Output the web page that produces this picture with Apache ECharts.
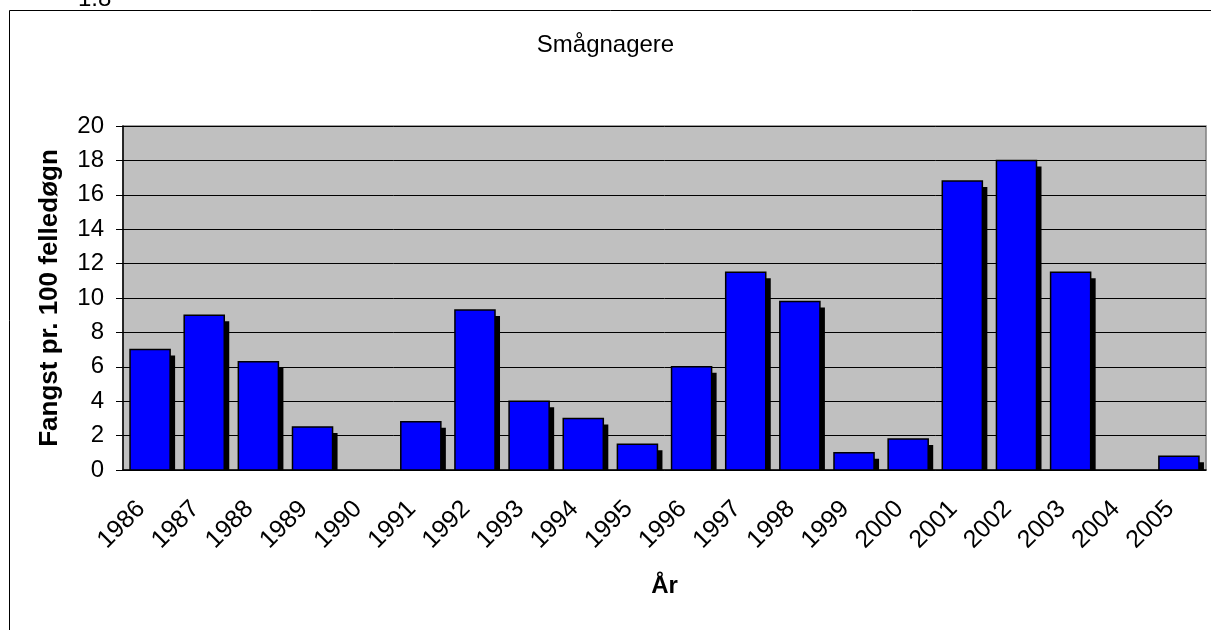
<!DOCTYPE html>
<html>
<head>
<meta charset="utf-8">
<script src="https://cdn.jsdelivr.net/npm/echarts@6/dist/echarts.min.js"></script>
<style>
  html, body { margin: 0; padding: 0; background: #fff; }
  #box { width: 1211px; height: 630px; }
</style>
</head>
<body>
<div id="box"></div>
<script>
// år og fangst pr. 100 felledøgn
const years = ['1986', '1987', '1988', '1989', '1990', '1991', '1992', '1993', '1994', '1995',
  '1996', '1997', '1998', '1999', '2000', '2001', '2002', '2003', '2004', '2005'];
const catch100 = [7, 9, 6.3, 2.5, 0, 2.8, 9.3, 4, 3, 1.5,
  6, 11.5, 9.8, 1, 1.8, 16.8, 18, 11.5, 0, 0.8];
const yTicks = [0, 2, 4, 6, 8, 10, 12, 14, 16, 18, 20];

const chart = echarts.init(document.getElementById('box'));

// søjle med sort skygge til højre, som i Excel
function renderBar(params, api) {
  const idx = api.value(0);
  const val = api.value(1);
  if (!val) return null;
  const top = api.coord([idx, val]);
  const base = api.coord([idx, 0]);
  const band = api.size([1, 0])[0];
  const w = band * 0.74;
  const x = top[0] - w / 2;
  const h = base[1] - top[1];
  const off = 5;
  return {
    type: 'group',
    children: [
      {
        type: 'rect',
        shape: { x: x + off, y: top[1] + off + 1, width: w, height: Math.max(h - off - 1, 0) },
        style: { fill: '#000' }
      },
      {
        type: 'rect',
        shape: { x: x, y: top[1], width: w, height: h },
        style: { fill: '#0000FF', stroke: '#000', lineWidth: 1.5 }
      }
    ]
  };
}

const option = {
  animation: false,
  textStyle: { fontFamily: 'Liberation Sans, Arial, sans-serif' },
  title: {
    text: 'Smågnagere',
    left: 'center',
    top: 33,
    textStyle: { fontSize: 24, fontWeight: 'normal', color: '#000' },
    padding: 0
  },
  graphic: [
    {
      type: 'rect',
      shape: { x: 9.5, y: 10.5, width: 1300, height: 700 },
      style: { fill: 'none', stroke: '#000', lineWidth: 1 },
      z: 10
    },
    {
      type: 'text',
      x: 78,
      y: 11,
      style: { text: '1.8', fill: '#000', font: '24px Liberation Sans', textVerticalAlign: 'bottom' },
      z: 0
    }
  ],
  grid: {
    left: 123,
    right: 5,
    top: 126,
    bottom: 160,
    show: true,
    backgroundColor: '#C0C0C0',
    borderColor: '#808080',
    borderWidth: 1.5
  },
  xAxis: {
    type: 'category',
    data: years,
    name: 'År',
    nameLocation: 'middle',
    nameGap: 104,
    nameTextStyle: { fontSize: 24, fontWeight: 'bold', color: '#000' },
    axisLine: { lineStyle: { color: '#000', width: 1.5 } },
    axisTick: { alignWithLabel: false, length: 7, lineStyle: { color: '#000' } },
    axisLabel: {
      rotate: 45, fontSize: 25, color: '#000', margin: 44, interval: 0,
      verticalAlign: 'bottom'
    }
  },
  yAxis: {
    type: 'value',
    min: 0,
    max: 20,
    interval: 2,
    name: 'Fangst pr. 100 felledøgn',
    nameLocation: 'middle',
    nameGap: 60,
    nameTextStyle: { fontSize: 26, fontWeight: 'bold', color: '#000' },
    axisLine: { show: true, lineStyle: { color: '#000', width: 1.5 } },
    axisTick: { show: true, length: 7, lineStyle: { color: '#000' } },
    axisLabel: {
      fontSize: 24, color: '#000', margin: 19,
      formatter: v => yTicks.includes(v) ? String(v) : ''
    },
    splitLine: { lineStyle: { color: '#000', width: 1 } }
  },
  series: [{
    type: 'custom',
    renderItem: renderBar,
    data: catch100.map((v, i) => [i, v]),
    encode: { x: 0, y: 1 }
  }]
};

chart.setOption(option);
</script>
</body>
</html>
